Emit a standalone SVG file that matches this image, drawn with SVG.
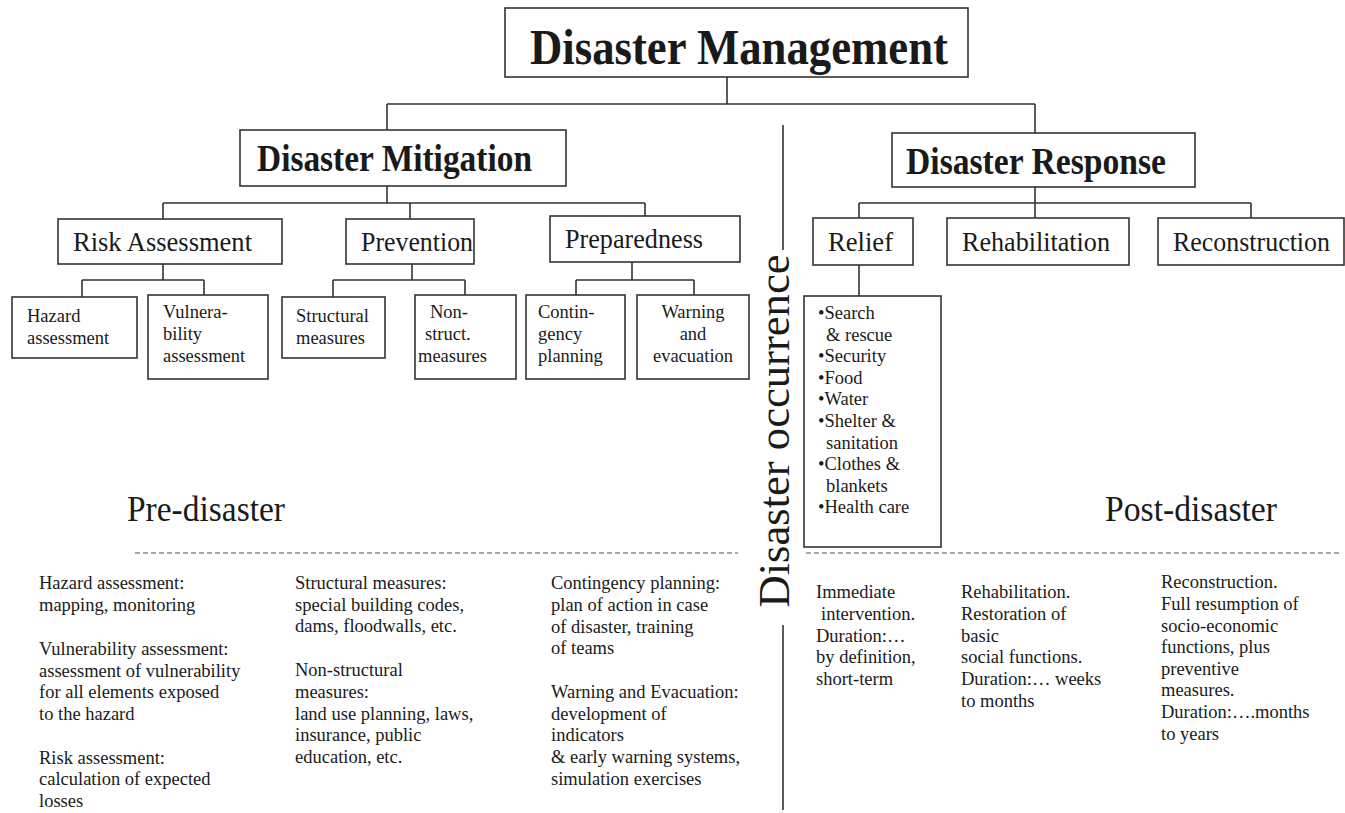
<svg xmlns="http://www.w3.org/2000/svg" width="1345" height="813" viewBox="0 0 1345 813">
<style>
.box{fill:#fff;stroke:#333;stroke-width:1.6}
.ln{fill:none;stroke:#333;stroke-width:1.6}
.dash{fill:none;stroke:#555;stroke-width:1.2;stroke-dasharray:5 3}
text{font-family:"Liberation Serif","Times New Roman",serif;fill:#1a1a1a}
.b{font-weight:bold}
.l2{font-size:27px}
.s{font-size:18.5px}
.big{font-size:35px}
</style>
<rect width="1345" height="813" fill="#fff"/>
<g id="connectors">
<path class="ln" d="M727,77V104M387,104H1035M387,104V130M1035,104V133"/>
<path class="ln" d="M387,186V203M163,203H645M163,203V219M410,203V219M645,203V216"/>
<path class="ln" d="M163,264V280M82,280H204M82,280V297M204,280V295"/>
<path class="ln" d="M412,264V280M333,280H465M333,280V297M465,280V295"/>
<path class="ln" d="M632,262V280M576,280H694M576,280V295M694,280V295"/>
<path class="ln" d="M1035,187V203M859,203H1251M859,203V218M1035,203V218M1251,203V218"/>
<path class="ln" d="M859,265V296"/>
<path class="ln" d="M783,125V250M783,625V810"/>
<path class="dash" d="M135,553H738M806,553H1340"/>
</g>
<g id="n-dm"><rect class="box" x="505" y="8" width="463" height="69"/><text class="b" x="530" y="64" font-size="50" textLength="418" lengthAdjust="spacingAndGlyphs">Disaster Management</text></g>
<g id="n-mit"><rect class="box" x="240" y="130" width="326" height="56"/><text class="b" x="257" y="171" font-size="37" textLength="275" lengthAdjust="spacingAndGlyphs">Disaster Mitigation</text></g>
<g id="n-resp"><rect class="box" x="892" y="133" width="303" height="54"/><text class="b" x="906" y="174" font-size="37" textLength="260" lengthAdjust="spacingAndGlyphs">Disaster Response</text></g>
<g id="n-risk"><rect class="box" x="58" y="219" width="224" height="45"/><text class="l2" x="73" y="251" textLength="179" lengthAdjust="spacingAndGlyphs">Risk Assessment</text></g>
<g id="n-prev"><rect class="box" x="346" y="219" width="128" height="45"/><text class="l2" x="361" y="251" textLength="112" lengthAdjust="spacingAndGlyphs">Prevention</text></g>
<g id="n-prep"><rect class="box" x="550" y="216" width="190" height="46"/><text class="l2" x="565" y="248" textLength="138" lengthAdjust="spacingAndGlyphs">Preparedness</text></g>
<g id="n-relief"><rect class="box" x="813" y="218" width="100" height="47"/><text class="l2" x="828" y="251" textLength="65" lengthAdjust="spacingAndGlyphs">Relief</text></g>
<g id="n-rehab"><rect class="box" x="947" y="218" width="182" height="47"/><text class="l2" x="962" y="251" textLength="148" lengthAdjust="spacingAndGlyphs">Rehabilitation</text></g>
<g id="n-recon"><rect class="box" x="1158" y="218" width="186" height="47"/><text class="l2" x="1173" y="251" textLength="157" lengthAdjust="spacingAndGlyphs">Reconstruction</text></g>
<g id="n-hazard"><rect class="box" x="12" y="297" width="125" height="61"/><text class="s" x="27" y="322">Hazard</text><text class="s" x="27" y="344">assessment</text></g>
<g id="n-vuln"><rect class="box" x="148" y="295" width="120" height="84"/><text class="s" x="163" y="318">Vulnera-</text><text class="s" x="163" y="340">bility</text><text class="s" x="163" y="362">assessment</text></g>
<g id="n-struct"><rect class="box" x="282" y="297" width="103" height="61"/><text class="s" x="296" y="322">Structural</text><text class="s" x="296" y="344">measures</text></g>
<g id="n-nonstruct"><rect class="box" x="415" y="295" width="101" height="84"/><text class="s" x="430" y="318">Non-</text><text class="s" x="425" y="340">struct.</text><text class="s" x="418" y="362">measures</text></g>
<g id="n-cont"><rect class="box" x="526" y="295" width="99" height="84"/><text class="s" x="538" y="318">Contin-</text><text class="s" x="538" y="340">gency</text><text class="s" x="538" y="362">planning</text></g>
<g id="n-warn"><rect class="box" x="637" y="295" width="112" height="84"/><text class="s" x="693" y="318" text-anchor="middle">Warning</text><text class="s" x="693" y="340" text-anchor="middle">and</text><text class="s" x="693" y="362" text-anchor="middle">evacuation</text></g>
<g id="n-relieflist"><rect class="box" x="804" y="296" width="137" height="251"/>
<text class="s" x="818" y="319">•Search</text>
<text class="s" x="826" y="341">&amp; rescue</text>
<text class="s" x="818" y="362">•Security</text>
<text class="s" x="818" y="384">•Food</text>
<text class="s" x="818" y="405">•Water</text>
<text class="s" x="818" y="427">•Shelter &amp;</text>
<text class="s" x="826" y="449">sanitation</text>
<text class="s" x="818" y="470">•Clothes &amp;</text>
<text class="s" x="826" y="492">blankets</text>
<text class="s" x="818" y="513">•Health care</text>
</g>
<g id="labels">
<text x="789" y="431" font-size="45" text-anchor="middle" transform="rotate(-90 789 431)" textLength="353" lengthAdjust="spacingAndGlyphs">Disaster occurrence</text>
<text class="big" x="127" y="521" textLength="158" lengthAdjust="spacingAndGlyphs">Pre-disaster</text>
<text class="big" x="1105" y="521" textLength="172" lengthAdjust="spacingAndGlyphs">Post-disaster</text>
</g>
<g id="desc">
<text class="s" x="39" y="589">Hazard assessment:</text>
<text class="s" x="39" y="611">mapping, monitoring</text>
<text class="s" x="39" y="655">Vulnerability assessment:</text>
<text class="s" x="39" y="677">assessment of vulnerability</text>
<text class="s" x="39" y="698">for all elements exposed</text>
<text class="s" x="39" y="720">to the hazard</text>
<text class="s" x="39" y="764">Risk assessment:</text>
<text class="s" x="39" y="785">calculation of expected</text>
<text class="s" x="39" y="807">losses</text>
<text class="s" x="295" y="589">Structural measures:</text>
<text class="s" x="295" y="611">special building codes,</text>
<text class="s" x="295" y="632">dams, floodwalls, etc.</text>
<text class="s" x="295" y="676">Non-structural</text>
<text class="s" x="295" y="698">measures:</text>
<text class="s" x="295" y="720">land use planning, laws,</text>
<text class="s" x="295" y="741">insurance, public</text>
<text class="s" x="295" y="763">education, etc.</text>
<text class="s" x="551" y="589">Contingency planning:</text>
<text class="s" x="551" y="611">plan of action in case</text>
<text class="s" x="551" y="633">of disaster, training</text>
<text class="s" x="551" y="654">of teams</text>
<text class="s" x="551" y="698">Warning and Evacuation:</text>
<text class="s" x="551" y="720">development of</text>
<text class="s" x="551" y="741">indicators</text>
<text class="s" x="551" y="763">&amp; early warning systems,</text>
<text class="s" x="551" y="785">simulation exercises</text>
<text class="s" x="816" y="598">Immediate</text>
<text class="s" x="821" y="620">intervention.</text>
<text class="s" x="816" y="642">Duration:…</text>
<text class="s" x="816" y="663">by definition,</text>
<text class="s" x="816" y="685">short-term</text>
<text class="s" x="961" y="598">Rehabilitation.</text>
<text class="s" x="961" y="620">Restoration of</text>
<text class="s" x="961" y="642">basic</text>
<text class="s" x="961" y="663">social functions.</text>
<text class="s" x="961" y="685">Duration:… weeks</text>
<text class="s" x="961" y="707">to months</text>
<text class="s" x="1161" y="588">Reconstruction.</text>
<text class="s" x="1161" y="610">Full resumption of</text>
<text class="s" x="1161" y="632">socio-economic</text>
<text class="s" x="1161" y="653">functions, plus</text>
<text class="s" x="1161" y="675">preventive</text>
<text class="s" x="1161" y="696">measures.</text>
<text class="s" x="1161" y="718">Duration:….months</text>
<text class="s" x="1161" y="740">to years</text>
</g>
</svg>
